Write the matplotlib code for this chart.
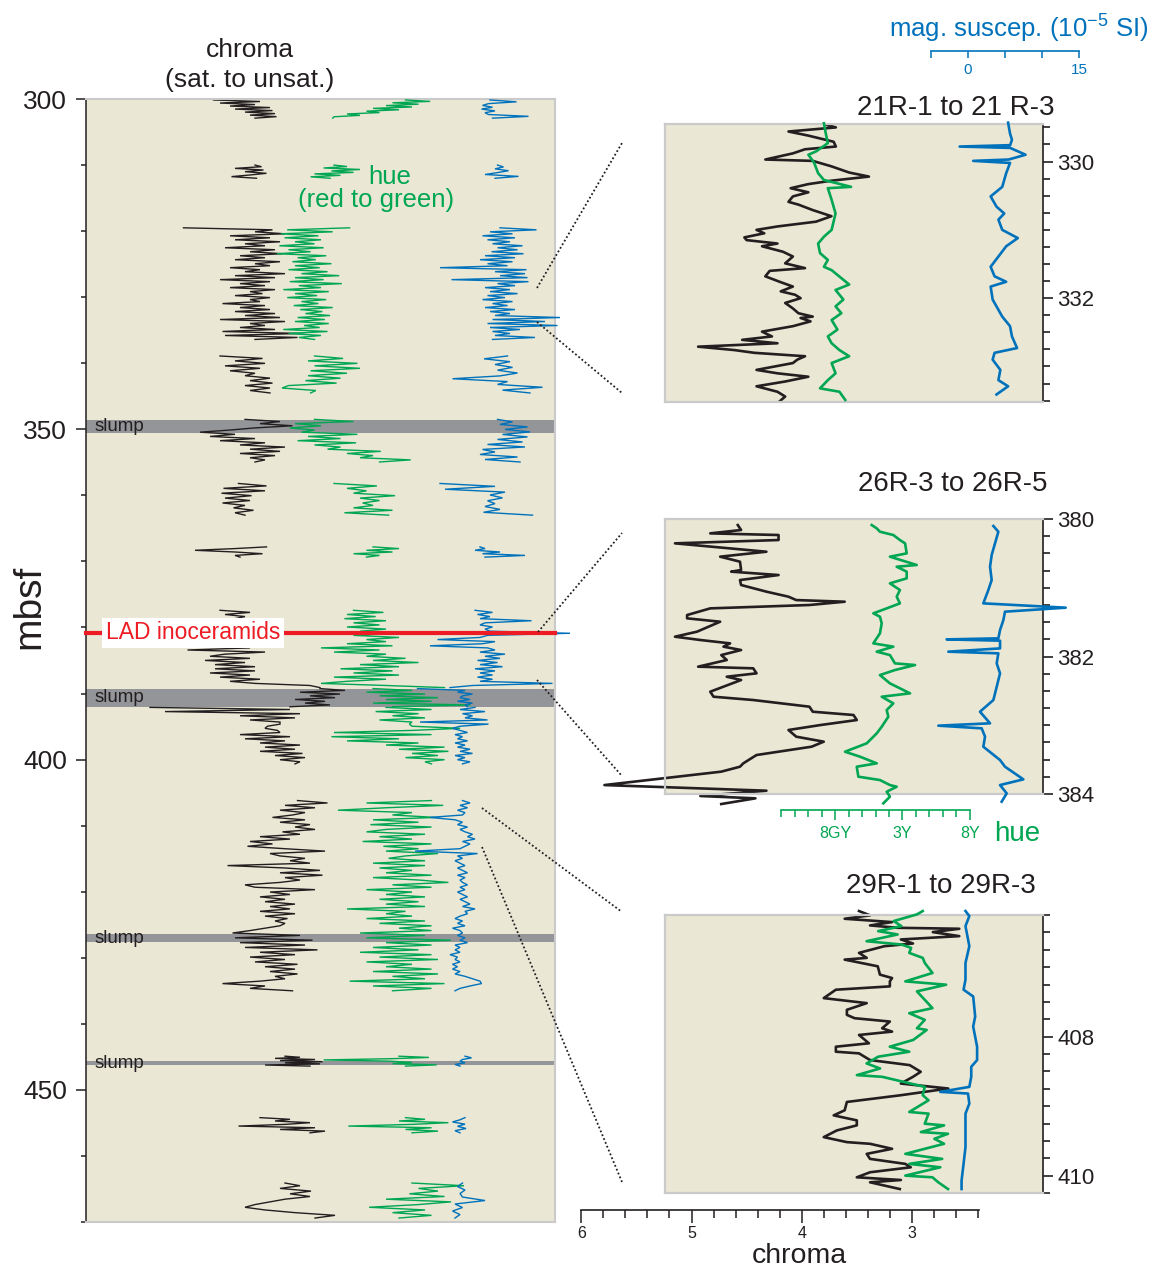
import numpy as np
import matplotlib
matplotlib.use('Agg')
import matplotlib.pyplot as plt
from matplotlib.lines import Line2D
from matplotlib.ticker import MultipleLocator, FixedLocator

plt.rcParams['font.family'] = ['Liberation Sans', 'DejaVu Sans']
plt.rcParams['mathtext.fontset'] = 'custom'
plt.rcParams['mathtext.rm'] = 'Liberation Sans'

# ======================= DATA =======================
# Main column: core segments (mbsf); values sampled evenly within each segment
SEG_TOP = [300.15, 310.0, 319.5, 338.9, 348.5, 358.2, 367.8, 377.4, 389.25, 392.1, 406.2, 444.9, 454.2, 464.1]
SEG_BOT = [302.9, 312.0, 336.4, 344.5, 354.95, 363.0, 369.35, 389.1, 392.0, 400.65, 435.0, 446.4, 456.5, 469.4]

CHROMA_MAIN = [
    [4.93, 4.0, 4.8, 4.1, 4.6, 3.8, 4.5, 3.75, 4.3, 3.7, 4.2, 3.67, 4.1],
    [4.1, 3.97, 4.5, 3.93, 4.3, 3.87, 4.2, 4.57, 4.07],
    [5.53, 3.75, 4.1, 3.5, 4.6, 3.8, 4.5, 3.6, 4.3, 3.9, 4.7, 3.7, 4.2, 3.55, 4.4, 3.9, 4.5, 3.6, 4.1,
     3.8, 4.6, 4.0, 4.3, 3.5, 4.5, 3.7, 4.8, 3.8, 4.4, 3.9, 4.6, 3.7, 4.2, 3.95, 4.5, 3.8, 4.2, 4.0,
     4.75, 3.9, 4.4, 3.8, 4.5, 3.7, 4.3, 3.6, 4.8, 3.5, 4.2, 3.9, 4.4, 3.7, 4.75, 3.2, 4.7, 3.25, 4.1],
    [4.8, 3.95, 4.5, 3.9, 4.7, 4.0, 4.6, 4.1, 4.3, 3.8, 4.2, 3.75, 4.3, 3.8, 4.2, 3.8],
    [4.3, 3.6, 4.0, 3.35, 4.1, 4.6, 5.2, 4.5, 5.0, 4.1, 4.8, 3.9, 4.4, 3.5, 4.2, 3.6, 4.4, 3.7, 4.2, 3.9, 4.1],
    [4.43, 3.87, 4.73, 3.9, 4.77, 4.17, 4.7, 4.2, 4.75, 4.3, 4.53, 4.13, 4.5, 4.3],
    [3.87, 4.5, 5.3, 4.5, 3.95, 4.5, 4.4],
    [4.8, 4.2, 4.7, 4.3, 4.5, 3.85, 4.4, 4.0, 4.6, 3.9, 4.3, 4.0, 4.5, 4.1, 4.4, 4.0, 3.8,
     4.9, 4.2, 5.45, 3.9, 4.7, 5.0, 4.2, 5.1, 4.3, 4.9, 4.1, 4.9, 4.1, 5.0, 4.2, 4.8, 4.0, 4.6,
     4.1, 3.0, 2.8],
    [2.8, 2.3, 3.2, 2.4, 3.0, 2.5, 3.3, 2.7, 3.1, 2.6, 3.4],
    [6.2, 3.4, 5.9, 3.2, 4.4, 3.3, 4.2, 3.6, 3.6, 3.85, 3.9, 3.65, 3.6, 4.4, 3.4, 4.3, 3.5, 4.0, 3.2,
     3.9, 3.3, 4.0, 3.15, 3.7, 3.1, 3.6, 3.2, 3.3],
    [3.25, 2.65, 3.5, 2.9, 3.6, 3.1, 3.35, 3.75, 3.1, 3.6, 3.0, 3.3, 2.9, 3.55, 3.2, 4.0, 3.4, 4.2,
     3.75, 4.25, 3.5, 2.7, 3.8, 3.6, 3.1, 3.4, 3.0, 4.65, 3.5, 2.8, 3.6, 2.75, 3.5, 3.2, 3.6, 4.3,
     4.1, 2.9, 3.8, 3.4, 4.0, 3.5, 3.9, 3.3, 3.8, 3.4, 4.0, 3.3, 3.9, 3.45, 3.7, 3.5, 3.6, 3.9, 4.2,
     4.55, 3.2, 4.5, 2.95, 4.4, 3.1, 4.3, 2.85, 4.0, 3.3, 4.2, 3.5, 4.1, 3.25, 3.9, 3.3, 3.8, 3.25,
     3.7, 3.5, 4.0, 4.75, 3.9, 4.2, 3.35],
    [3.5, 3.2, 3.7, 2.9, 3.6, 2.75, 3.5, 2.8, 3.9, 3.0],
    [4.0, 3.4, 3.7, 3.0, 3.5, 4.43, 2.9, 3.6, 2.7, 3.0],
    [3.5, 3.2, 3.6, 2.98, 3.4, 3.0, 3.5, 3.8, 4.1, 4.3, 3.9, 3.3, 2.5, 2.9],
]

HUE_MAIN = [
    [10.5, 12.4, 9.5, 11.5, 9.0, 11.0, 8.0, 10.0, 7.5, 8.5, 6.0, 7.0, 5.0, 4.9],
    [5.0, 6.0, 4.2, 7.0, 4.8, 6.5, 3.5, 5.5, 3.2, 4.7],
    [6.2, 1.4, 4.9, 0.9, 3.8, 1.2, 4.0, 2.0, 3.5, 0.8, 4.2, 1.5, 3.2, 0.6, 4.4, 2.2, 3.6, 1.8, 4.8,
     2.0, 3.9, 1.5, 4.5, 2.5, 5.4, 2.0, 4.2, 1.6, 5.6, 2.3, 4.0, 1.1, 4.6, 2.0, 3.7, 1.4, 4.4, 2.5,
     3.8, 1.9, 4.9, 2.4, 4.1, 2.8, 4.7, 2.2, 4.3, 2.0, 4.6, 2.7, 3.9, 1.1, 4.5, 1.5, 4.0, 2.3, 3.5],
    [3.5, 5.7, 3.0, 6.8, 3.5, 7.0, 3.2, 6.0, 3.0, 5.5, 2.8, 5.2, 1.5, 1.0, 3.6, 3.2],
    [3.5, 6.5, 2.0, 4.0, 1.6, 3.5, 2.5, 6.8, 3.0, 5.5, 2.2, 6.7, 3.5, 5.5, 4.5, 8.6, 6.0, 8.0, 7.0, 10.9, 8.5],
    [5.0, 8.3, 6.0, 7.5, 6.5, 9.7, 7.0, 8.5, 7.2, 8.0, 6.5, 9.5, 5.8, 9.2],
    [8.0, 10.0, 7.5, 9.5, 6.5, 8.5, 7.5],
    [6.5, 8.8, 6.0, 8.2, 5.8, 9.0, 6.5, 8.5, 6.0, 9.0, 7.0, 9.5, 6.5, 10.0, 7.5, 9.0, 6.0, 9.5, 4.0,
     8.5, 5.0, 9.0, 7.5, 10.5, 8.0, 11.5, 7.0, 10.0, 5.5, 9.5, 6.5, 10.0, 5.0, 9.0, 6.0, 4.0, 9.0, 13.5],
    [8.0, 11.0, 7.5, 12.0, 8.5, 13.0, 9.0, 12.5, 8.0, 15.5, 9.5],
    [9.0, 12.5, 8.2, 11.5, 9.5, 12.0, 8.5, 11.0, 10.8, 11.0, 14.7, 11.0, 5.0, 12.5, 4.8, 10.0, 6.0,
     11.5, 9.0, 13.5, 10.0, 13.8, 11.0, 13.0, 10.5, 13.5, 12.0, 12.5],
    [12.5, 7.5, 13.4, 9.0, 5.3, 11.0, 9.5, 12.8, 8.0, 11.5, 7.8, 12.5, 9.0, 7.5, 12.0, 8.5, 11.0,
     7.2, 12.5, 8.8, 11.5, 9.0, 13.0, 10.5, 9.2, 12.0, 8.0, 12.0, 8.5, 11.0, 9.0, 12.5, 8.0, 11.5,
     13.8, 9.5, 12.5, 7.5, 11.0, 9.0, 12.0, 8.5, 11.5, 9.0, 12.0, 6.0, 10.5, 9.0, 11.0, 7.5, 12.0,
     8.5, 12.5, 10.0, 12.5, 7.0, 12.0, 7.5, 14.0, 9.0, 12.5, 8.0, 11.5, 7.0, 12.5, 8.5, 13.0, 7.5,
     11.0, 9.0, 12.5, 8.0, 13.0, 9.5, 12.0, 6.2, 13.5, 8.0, 12.5, 9.5],
    [10.0, 12.3, 9.5, 4.2, 9.2, 11.0, 9.5, 12.9, 10.5],
    [10.5, 12.0, 10.0, 13.8, 11.0, 6.1, 12.5, 10.5, 13.0, 11.0],
    [11.0, 15.0, 11.5, 13.0, 10.8, 13.5, 9.0, 14.0, 11.5, 7.7, 12.0, 9.5, 12.5, 10.0],
]

MAGSUS_MAIN = [
    [4.0, 9.3, 3.7, 2.5, 4.5, 2.3, 5.0, 3.0, 3.7, 11.7, 4.5],
    [5.5, 6.7, 5.0, 7.7, 5.5, 3.0, 9.7, 5.0],
    [6.0, 13.3, 4.0, 8.5, 2.5, 9.0, 3.5, 8.0, 4.5, 10.5, 5.5, 9.5, 4.3, 10.7, 3.0, 9.0, 2.0, 8.5,
     3.5, 7.5, -6.0, 11.3, 5.0, 11.0, 6.0, 11.5, -3.7, 11.7, 5.5, 9.0, 3.0, 8.0, 4.0, 9.5, 3.5, 7.0,
     2.5, 8.5, 4.5, 7.5, 3.0, 9.0, 4.0, 8.0, 5.0, 18.0, 4.5, 15.0, 3.5, 17.5, 4.0, 10.0, 4.5, 8.0,
     5.0, 13.0, 4.5],
    [7.5, 2.8, 8.0, 5.0, 8.5, 5.5, 9.5, 6.0, -3.5, 7.5, 5.5, 14.5, 6.5, 12.0],
    [5.5, 8.5, 6.0, 11.5, 7.0, 12.0, 6.5, 11.5, 5.5, 10.5, 3.5, 11.0, 2.5, 5.0, 2.0, 9.5, 3.0, 10.0],
    [-6.0, 5.0, -5.0, 7.0, 4.0, 6.5, 3.5, 5.0, 3.0, 6.0, 2.7, 12.5],
    [2.0, 3.0, 1.0, 6.0, 2.5, 11.0, 3.0],
    [1.0, 4.5, 1.5, 4.0, 2.0, 12.3, 3.0, 2.0, 4.5, 3.0, 4.0, 20.0, 3.5, 2.0, -6.5, 5.0, 2.5, -8.0,
     3.5, 5.0, 2.0, 7.0, 3.0, 6.0, 1.5, 5.5, 2.0, 6.5, 1.0, 5.0, 2.0, 4.5, 1.5, 4.5, 2.0, 16.5, 0.5, -4.0],
    [-10.5, -1.0, -2.5, 0.5, -1.5, -2.0, 0.0, -2.5, 0.5, -1.0, -0.5],
    [1.0, -2.0, 3.0, -1.5, 0.5, -1.0, 3.5, -10.0, 3.7, -2.0, -3.5, -2.0, -0.5, -3.0, -1.5, -2.5,
     -0.5, -3.0, -1.0, -2.5, 0.0, -2.0, 0.5, -3.0, -1.0, -2.5, 0.0, -1.5],
    [-1.5, 0.0, -2.0, -0.5, -2.5, -1.0, -1.5, -8.0, -3.0, -1.5, -2.5, -0.5, -2.0, -1.0, 0.5, -0.5,
     1.0, -1.5, 0.0, -1.0, -2.0, -11.0, 1.5, -2.5, -1.5, -3.0, -2.0, -1.0, -2.5, -1.5, -0.5, -2.5,
     -1.0, -2.0, -1.5, -0.5, -2.0, -1.0, -2.5, -1.5, -0.5, -2.0, -1.0, 0.0, -1.5, 1.0, -1.0, -0.5,
     -2.0, -3.0, -1.5, -2.5, -1.0, -3.5, -2.0, -1.5, -2.5, -1.0, -2.0, -0.5, -3.0, -2.0, -3.0, -2.0,
     -4.0, -2.5, -3.0, -2.0, -3.5, -2.5, -3.5, -2.0, -3.0, -1.0, 0.5, 2.0, 2.3, 0.0, -2.0, -3.0],
    [-1.0, 0.3, -1.5, -2.0, -1.0, -3.0, -2.0],
    [-1.0, -2.0, -3.5, -1.0, -2.5, -0.8, -3.0, -2.0],
    [-1.5, -2.5, -1.0, -2.0, -1.5, 3.0, -3.0, -1.5, -3.5, -2.0, -3.0],
]

SLUMP_TOP = [348.6, 389.25, 426.45, 445.65]
SLUMP_BOT = [350.6, 392.0, 427.6, 446.3]
LAD_DEPTH = 380.8

# ---- detail panel 1: 21R-1 to 21R-3 ----
P1_CHROMA_D = [329.45, 329.50, 329.56, 329.62, 329.71, 329.78, 329.82, 329.88, 329.97, 329.99,
               330.07, 330.16, 330.22, 330.28, 330.33, 330.39, 330.45, 330.51, 330.59, 330.63,
               330.71, 330.80, 330.88, 330.95, 331.00, 331.05, 331.11, 331.15, 331.20, 331.24,
               331.32, 331.39, 331.49, 331.56, 331.60, 331.68, 331.76, 331.83, 331.90, 331.95,
               332.00, 332.07, 332.15, 332.22, 332.27, 332.29, 332.34, 332.41, 332.49, 332.56,
               332.61, 332.66, 332.71, 332.76, 332.80, 332.85, 332.90, 332.95, 333.05, 333.10,
               333.15, 333.22, 333.29, 333.37, 333.44, 333.51]
P1_CHROMA = [3.80, 3.69, 4.12, 3.94, 3.71, 3.69, 3.97, 4.08, 4.33, 3.90,
             3.73, 3.57, 3.39, 3.73, 3.94, 4.10, 3.94, 4.08, 4.12, 4.03,
             3.90, 3.73, 3.87, 4.22, 4.41, 4.34, 4.52, 4.50, 4.22, 4.36,
             4.17, 4.08, 4.15, 3.97, 4.29, 4.33, 4.20, 4.08, 4.19, 4.06,
             4.01, 4.15, 4.08, 4.03, 3.90, 4.01, 3.92, 4.08, 4.36, 4.27,
             4.54, 4.22, 4.94, 4.61, 4.43, 3.97, 4.04, 4.08, 4.41, 4.22,
             3.94, 4.15, 4.41, 4.22, 4.15, 4.20]
P1_HUE_D = [329.44, 329.59, 329.73, 329.85, 329.90, 330.02, 330.17, 330.27, 330.37, 330.39,
            330.56, 330.76, 331.00, 331.10, 331.20, 331.34, 331.44, 331.54, 331.59, 331.80,
            331.88, 332.02, 332.12, 332.22, 332.32, 332.46, 332.56, 332.66, 332.76, 332.85,
            332.95, 333.10, 333.20, 333.32, 333.37, 333.49]
P1_HUE = [3.18, 3.32, 3.47, 2.61, 2.03, 2.46, 2.75, 3.18, 5.19, 3.47,
          3.75, 4.04, 3.75, 3.18, 2.75, 2.89, 3.47, 3.18, 3.75, 5.05,
          4.04, 4.62, 4.04, 4.47, 3.75, 4.18, 3.47, 3.75, 4.33, 5.05,
          3.75, 4.04, 3.47, 2.89, 4.33, 4.76]
P1_MAG_D = [329.43, 329.59, 329.68, 329.76, 329.78, 329.80, 329.90, 329.97, 329.99, 330.02,
            330.17, 330.37, 330.51, 330.66, 330.76, 330.85, 331.00, 331.12, 331.24, 331.39,
            331.54, 331.68, 331.76, 331.83, 332.02, 332.27, 332.41, 332.56, 332.73, 332.80,
            332.90, 333.05, 333.20, 333.29, 333.41]
P1_MAG = [5.42, 5.68, 5.94, 5.70, -1.13, 5.70, 7.78, 5.50, 0.70, 5.68,
          5.16, 4.63, 3.06, 3.85, 4.90, 4.11, 4.63, 6.73, 5.16, 4.11,
          3.06, 3.59, 5.16, 3.06, 3.33, 4.63, 5.68, 5.94, 6.63, 3.59,
          3.33, 4.37, 4.11, 5.42, 3.85]

# ---- detail panel 2: 26R-3 to 26R-5 ----
P2_CHROMA_D = [380.088, 380.160, 380.209, 380.233, 380.306, 380.354, 380.476, 380.548, 380.621, 380.742,
               380.766, 380.815, 380.888, 380.960, 381.057, 381.130, 381.179, 381.203, 381.251, 381.300,
               381.397, 381.445, 381.494, 381.639, 381.712, 381.760, 381.809, 381.857, 381.906, 381.979,
               382.051, 382.148, 382.172, 382.245, 382.294, 382.342, 382.512, 382.585, 382.633, 382.730,
               382.803, 382.851, 382.924, 382.997, 383.069, 383.166, 383.239, 383.312, 383.433, 383.554,
               383.603, 383.675, 383.870, 383.952, 384.029, 384.063, 384.146]
P2_CHROMA = [4.58, 4.55, 4.83, 4.21, 4.21, 5.15, 4.32, 4.74, 4.56, 4.55,
             4.64, 4.21, 4.56, 4.55, 4.32, 4.12, 4.05, 3.61, 3.93, 4.83,
             5.04, 5.04, 4.74, 4.95, 5.15, 4.92, 4.65, 4.71, 4.55, 4.73,
             4.68, 4.94, 4.44, 4.41, 4.68, 4.55, 4.83, 4.80, 4.44, 3.93,
             3.90, 3.53, 3.50, 3.83, 4.12, 4.05, 3.80, 3.91, 4.41, 4.53,
             4.56, 4.73, 5.79, 4.32, 4.92, 4.42, 4.73]
P2_HUE_D = [380.088, 380.136, 380.185, 380.233, 380.306, 380.354, 380.500, 380.548, 380.669, 380.694,
            380.766, 380.863, 380.936, 381.033, 381.130, 381.227, 381.300, 381.372, 381.421, 381.518,
            381.663, 381.809, 381.857, 381.930, 381.979, 382.100, 382.124, 382.197, 382.270, 382.391,
            382.536, 382.585, 382.682, 382.779, 382.876, 383.021, 383.118, 383.263, 383.385, 383.457,
            383.554, 383.603, 383.748, 383.797, 383.870, 383.894, 383.967, 384.039, 384.136]
P2_HUE = [6.72, 7.09, 7.33, 8.32, 8.81, 9.19, 9.31, 8.07, 10.05, 8.57,
          9.31, 9.31, 8.07, 8.81, 8.57, 8.81, 7.83, 6.84, 7.33, 7.46,
          7.33, 6.84, 8.32, 7.09, 8.07, 8.44, 9.93, 8.44, 7.33, 8.07,
          9.56, 7.46, 8.32, 7.83, 7.95, 7.46, 7.09, 6.35, 4.74, 5.85,
          7.09, 5.61, 5.73, 7.33, 8.07, 8.57, 7.83, 8.07, 7.58]
P2_MAG_D = [380.102, 380.185, 380.354, 380.524, 380.694, 380.888, 381.033, 381.227, 381.290, 381.348,
            381.470, 381.615, 381.736, 381.751, 381.770, 381.882, 381.930, 381.954, 382.100, 382.245,
            382.439, 382.633, 382.803, 382.972, 383.006, 383.045, 383.166, 383.312, 383.506, 383.603,
            383.787, 383.870, 383.991, 384.112]
P2_MAG = [3.43, 4.10, 3.65, 3.20, 2.98, 3.20, 2.75, 2.07, 13.20, 5.00,
          4.78, 4.33, 4.10, -2.88, 4.33, 4.33, -2.66, 4.10, 3.88, 4.33,
          3.88, 3.43, 1.62, 2.98, -4.01, 1.85, 2.30, 2.07, 4.33, 5.00,
          7.48, 4.33, 5.23, 4.55]

# ---- detail panel 3: 29R-1 to 29R-3 ----
P3_CHROMA_D = [406.193, 406.255, 406.304, 406.352, 406.400, 406.434, 406.448, 406.496, 406.554, 406.602,
               406.660, 406.699, 406.795, 406.867, 406.892, 406.988, 407.108, 407.157, 407.205, 407.277,
               407.325, 407.446, 407.518, 407.614, 407.687, 407.735, 407.783, 407.880, 407.928, 407.976,
               408.096, 408.145, 408.217, 408.241, 408.337, 408.410, 408.506, 408.578, 408.675, 408.747,
               408.843, 408.940, 409.060, 409.133, 409.205, 409.277, 409.349, 409.446, 409.518, 409.542,
               409.614, 409.687, 409.759, 409.831, 409.880, 409.952, 410.024, 410.063, 410.096, 410.193]
P3_CHROMA = [3.48, 3.38, 3.61, 3.18, 3.38, 3.13, 2.57, 2.81, 2.57, 3.10,
             2.99, 3.25, 3.48, 3.41, 3.61, 3.31, 3.29, 3.18, 3.20, 3.20,
             3.69, 3.80, 3.41, 3.59, 3.59, 3.52, 3.20, 3.27, 3.18, 3.48,
             3.39, 3.69, 3.69, 3.48, 3.38, 3.02, 2.92, 2.99, 3.10, 2.67,
             3.10, 3.59, 3.61, 3.71, 3.50, 3.50, 3.68, 3.80, 3.59, 3.38,
             3.18, 3.41, 3.38, 3.06, 3.01, 3.38, 3.50, 3.10, 3.38, 3.11]
P3_HUE_D = [406.193, 406.241, 406.337, 406.410, 406.482, 406.530, 406.627, 406.675, 406.723, 406.795,
            406.867, 406.940, 407.084, 407.205, 407.253, 407.349, 407.590, 407.663, 407.759, 407.880,
            407.904, 408.048, 408.145, 408.217, 408.289, 408.386, 408.458, 408.554, 408.578, 408.723,
            408.843, 408.916, 409.084, 409.108, 409.253, 409.277, 409.373, 409.398, 409.470, 409.542,
            409.687, 409.759, 409.831, 409.880, 410.000, 410.024, 410.096, 410.193]
P3_HUE = [10.50, 10.07, 8.35, 8.92, 7.20, 8.64, 6.34, 8.92, 9.64, 9.50,
          10.50, 10.65, 11.22, 9.21, 12.23, 10.07, 11.22, 9.50, 10.65, 10.07,
          10.79, 9.79, 8.06, 9.50, 7.20, 6.34, 7.34, 5.62, 7.49, 10.65,
          10.50, 10.93, 9.50, 10.93, 10.65, 12.08, 10.36, 12.37, 11.36, 12.08,
          9.21, 11.94, 9.50, 11.80, 9.21, 11.22, 11.65, 12.37]
P3_MAG_D = [406.193, 406.265, 406.410, 406.554, 406.699, 406.940, 407.181, 407.325, 407.422, 407.711,
            407.855, 408.145, 408.337, 408.434, 408.578, 408.723, 408.795, 408.819, 408.964, 409.108,
            409.349, 409.590, 409.831, 410.072, 410.193]
P3_MAG = [-0.34, 0.18, -0.34, -0.08, 0.18, -0.34, -0.34, -0.60, 0.70, 0.97,
          0.70, 1.23, 1.23, 0.44, 0.44, 0.18, -3.75, 0.00, 0.18, -0.34,
          -0.34, -0.34, -0.60, -0.87, -0.87]

PANEL_TITLES = ['21R-1 to 21 R-3', '26R-3 to 26R-5', '29R-1 to 29R-3']
PANEL_YLIMS = [(333.52, 329.45), (384.0, 380.0), (410.25, 406.25)]
PANEL_MAJOR = [[330, 332], [380, 382, 384], [408, 410]]
HUE_TICK_LABELS = ['8GY', '3Y', '8Y']
CHROMA_TICKS = [6, 5, 4, 3]

# ======================= STYLE / LAYOUT =======================
BLACK = '#231F20'
GREEN = '#00A651'
BLUE = '#0072BC'
RED = '#ED1C24'
BG = '#EAE7D5'
FRAME = '#CACACA'
SLUMPC = '#939598'

W, H, DPI = 1168, 1278, 100
fig = plt.figure(figsize=(W / DPI, H / DPI), dpi=DPI)


def box(x0, y0, x1, y1):
    return [x0 / W, 1 - y1 / H, (x1 - x0) / W, (y1 - y0) / H]


def lims(x0, x1, v0, p0, s):
    """x-limits of an axes spanning pixels x0..x1 for a scale with value v0 at pixel p0, s px/unit."""
    return (v0 + (x0 - p0) / s, v0 + (x1 - p0) / s)


# ---------------- main column ----------------
MX0, MX1 = 86, 555
ax = fig.add_axes(box(MX0, 99, MX1, 1222))
ax.set_facecolor(BG)
ax.set_ylim(470, 300)
ax.set_xlim(*lims(MX0, MX1, 4.0, 260, -50))
axh = ax.twiny()
axh.set_xlim(*lims(MX0, MX1, 0.0, 269, 13))
axh.set_axis_off()
axm = ax.twiny()
axm.set_xlim(*lims(MX0, MX1, 0.0, 470, 5))
axm.set_axis_off()

for sp in ['top', 'right', 'bottom']:
    ax.spines[sp].set_color(FRAME)
    ax.spines[sp].set_linewidth(1.5)
ax.spines['left'].set_color(BLACK)
ax.spines['left'].set_linewidth(1.1)
ax.yaxis.set_major_locator(FixedLocator([300, 350, 400, 450]))
ax.yaxis.set_minor_locator(MultipleLocator(10))
ax.tick_params(axis='y', which='major', length=7.5, width=1.1, labelsize=19, pad=6, colors=BLACK)
ax.tick_params(axis='y', which='minor', length=3.5, width=1.1, colors=BLACK)
ax.tick_params(axis='x', which='both', bottom=False, labelbottom=False, top=False, labeltop=False)

for t, b in zip(SLUMP_TOP, SLUMP_BOT):
    ax.axhspan(t, b, color=SLUMPC, lw=0, zorder=0.5)

for i in range(len(SEG_TOP)):
    for a, vals, col in ((ax, CHROMA_MAIN[i], BLACK), (axh, HUE_MAIN[i], GREEN), (axm, MAGSUS_MAIN[i], BLUE)):
        d = np.linspace(SEG_TOP[i], SEG_BOT[i], len(vals))
        a.plot(vals, d, color=col, lw=1.0, clip_on=False, solid_joinstyle='miter')

ytr = axm.get_yaxis_transform()
axm.plot([0, 1], [LAD_DEPTH, LAD_DEPTH], transform=ytr, color=RED, lw=3, zorder=5, clip_on=False)
axm.text((193 - MX0) / (MX1 - MX0), LAD_DEPTH, 'LAD inoceramids', transform=ytr, color=RED,
         fontsize=16.5, ha='center', va='center', zorder=6,
         bbox=dict(facecolor='white', edgecolor='none', pad=2.5))
for t, b in zip(SLUMP_TOP, SLUMP_BOT):
    axm.text((95 - MX0) / (MX1 - MX0), (t + b) / 2, 'slump', transform=ytr, color=BLACK,
             fontsize=13.5, ha='left', va='center', zorder=6)

fig.text(29 / W, 1 - 607 / H, 'mbsf', rotation=90, fontsize=28, ha='center', va='center', color=BLACK)
fig.text(250 / W, 1 - 57 / H, 'chroma', fontsize=19, ha='center', va='baseline', color=BLACK)
fig.text(250 / W, 1 - 87.5 / H, '(sat. to unsat.)', fontsize=19, ha='center', va='baseline', color=BLACK)
fig.text(390 / W, 1 - 184.5 / H, 'hue', fontsize=18.5, ha='center', va='baseline', color=GREEN)
fig.text(376 / W, 1 - 207 / H, '(red to green)', fontsize=18.5, ha='center', va='baseline', color=GREEN)

# ---------------- detail panels ----------------
PX0, PX1 = 665, 1043
PANEL_Y = [(124, 402), (519, 794), (915, 1193)]
TITLE_POS = [(956, 115), (953, 491.5), (940.5, 893)]
PDATA = [
    (P1_CHROMA_D, P1_CHROMA, P1_HUE_D, P1_HUE, P1_MAG_D, P1_MAG),
    (P2_CHROMA_D, P2_CHROMA, P2_HUE_D, P2_HUE, P2_MAG_D, P2_MAG),
    (P3_CHROMA_D, P3_CHROMA, P3_HUE_D, P3_HUE, P3_MAG_D, P3_MAG),
]
for k in range(3):
    y0, y1 = PANEL_Y[k]
    pc = fig.add_axes(box(PX0, y0, PX1, y1))
    pc.set_facecolor(BG)
    pc.set_xlim(*lims(PX0, PX1, 6.0, 581.3, -110.2))
    pc.set_ylim(*PANEL_YLIMS[k])
    ph = pc.twiny()
    ph.set_xlim(*lims(PX0, PX1, 0.0, 781, 13.5))
    ph.set_axis_off()
    pm = pc.twiny()
    pm.set_xlim(*lims(PX0, PX1, 0.0, 968, 7.4))
    pm.set_axis_off()
    for sp in ['top', 'left', 'bottom']:
        pc.spines[sp].set_color(FRAME)
        pc.spines[sp].set_linewidth(1.6)
    pc.spines['right'].set_color(BLACK)
    pc.spines['right'].set_linewidth(1.2)
    pc.yaxis.tick_right()
    pc.yaxis.set_major_locator(FixedLocator(PANEL_MAJOR[k]))
    pc.yaxis.set_minor_locator(MultipleLocator(0.25))
    pc.tick_params(axis='y', which='major', length=7, width=1.2, labelsize=16, pad=3.5, colors=BLACK)
    pc.tick_params(axis='y', which='minor', length=4.8, width=1.2, colors=BLACK)
    pc.tick_params(axis='x', which='both', bottom=False, labelbottom=False, top=False, labeltop=False)
    cd, cv, hd, hv, md, mv = PDATA[k]
    pc.plot(cv, cd, color=BLACK, lw=1.9, clip_on=False)
    ph.plot(hv, hd, color=GREEN, lw=1.9, clip_on=False)
    pm.plot(mv, md, color=BLUE, lw=1.9, clip_on=False)
    tx, ty = TITLE_POS[k]
    fig.text(tx / W, 1 - ty / H, PANEL_TITLES[k], fontsize=20, ha='center', va='baseline', color=BLACK)

# ---------------- chroma scale (bottom) ----------------
ab = fig.add_axes(box(581.3, 1205, 979, 1210))
ab.patch.set_visible(False)
ab.set_xlim(6, 6 + (979 - 581.3) / -110.2)
for sp in ['top', 'left', 'right']:
    ab.spines[sp].set_visible(False)
ab.spines['bottom'].set_linewidth(1.2)
ab.spines['bottom'].set_color(BLACK)
ab.set_yticks([])
ab.xaxis.set_major_locator(FixedLocator(CHROMA_TICKS))
ab.xaxis.set_minor_locator(MultipleLocator(0.2))
ab.tick_params(axis='x', which='major', length=9, width=1.1, labelsize=11.5, pad=2.5, colors=BLACK)
ab.tick_params(axis='x', which='minor', length=5.5, width=1.1, colors=BLACK)
fig.text(799 / W, 1 - 1263 / H, 'chroma', fontsize=20.5, ha='center', va='baseline', color=BLACK)

# ---------------- hue scale ----------------
ahs = fig.add_axes(box(781, 805, 970, 810))
ahs.patch.set_visible(False)
ahs.set_xlim(0, 14)
for sp in ['top', 'left', 'right']:
    ahs.spines[sp].set_visible(False)
ahs.spines['bottom'].set_color(GREEN)
ahs.spines['bottom'].set_linewidth(1.2)
ahs.set_yticks([])
ahs.xaxis.set_major_locator(FixedLocator([4, 9, 14]))
ahs.set_xticklabels(HUE_TICK_LABELS)
ahs.xaxis.set_minor_locator(MultipleLocator(1))
ahs.tick_params(axis='x', which='major', length=7.5, width=1.1, labelsize=11.5, pad=4, colors=GREEN)
ahs.tick_params(axis='x', which='minor', length=5, width=1.1, colors=GREEN)
fig.text(1017 / W, 1 - 841 / H, 'hue', fontsize=20, ha='center', va='baseline', color=GREEN)

# ---------------- mag. susceptibility scale ----------------
ams = fig.add_axes(box(931, 46, 1079, 51))
ams.patch.set_visible(False)
ams.set_xlim(-5, 15)
for sp in ['top', 'left', 'right']:
    ams.spines[sp].set_visible(False)
ams.spines['bottom'].set_color(BLUE)
ams.spines['bottom'].set_linewidth(1.2)
ams.set_yticks([])
ams.xaxis.set_major_locator(FixedLocator([-5, 0, 5, 10, 15]))
ams.set_xticklabels(['', '0', '', '', '15'])
ams.tick_params(axis='x', which='major', length=5, width=1.1, labelsize=11, pad=3.5, colors=BLUE)
fig.text(1019 / W, 1 - 36.5 / H, r'mag. suscep. (10$^{\mathregular{-5}}$ SI)', fontsize=18.5,
         ha='center', va='baseline', color=BLUE)

# ---------------- dotted connectors (figure pixels) ----------------
CONNECTORS = [((537, 288), (622, 143)), ((537, 322), (622, 393)),
              ((538, 632), (622, 533)), ((537, 680), (622, 776)),
              ((482, 808), (622, 912)), ((482, 847), (622, 1182))]
for (xa, ya), (xb, yb) in CONNECTORS:
    fig.add_artist(Line2D([xa / W, xb / W], [1 - ya / H, 1 - yb / H], transform=fig.transFigure,
                          color=BLACK, lw=1.3, linestyle=(0, (1, 1.3))))

fig.savefig('out.png', dpi=DPI)
